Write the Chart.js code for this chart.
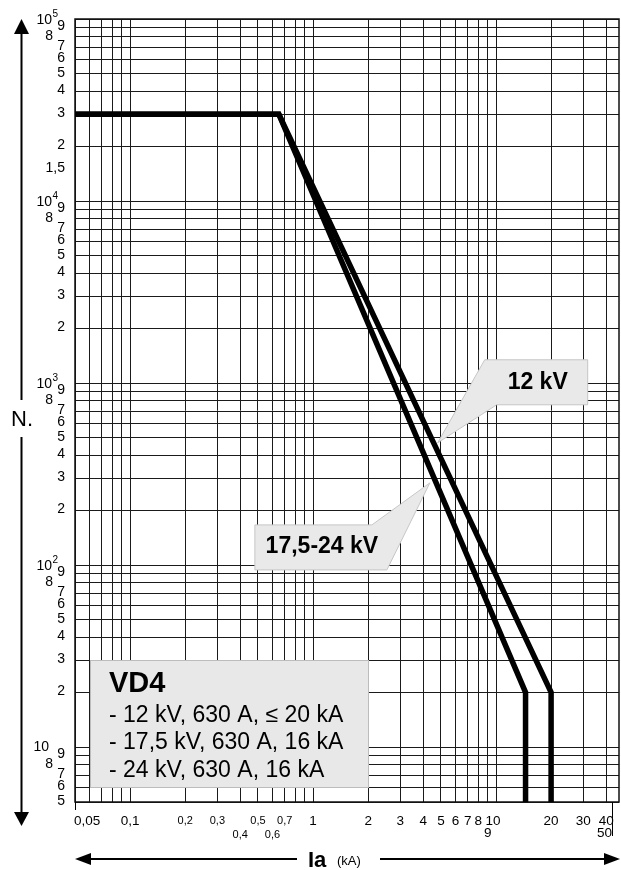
<!DOCTYPE html>
<html>
<head>
<meta charset="utf-8">
<title>VD4 - electrical life</title>
<script src="https://cdn.jsdelivr.net/npm/chart.js@4.4.1/dist/chart.umd.min.js"></script>
<style>
  html, body { margin: 0; padding: 0; background: #fff; }
  #wrap { position: relative; width: 621px; height: 870px; }
</style>
</head>
<body>
<div id="wrap"><canvas id="chart"></canvas></div>
<script>
/* VD4 electrical life curve: number of operations N. vs breaking current Ia (kA).
   Log-log chart, labels and callouts drawn by a small plugin on top of Chart.js. */

// 12 kV curve
var ia12kV = [0.05, 0.65, 20, 20];
var n12kV = [30000, 30000, 20, 5];

// 17,5-24 kV curve
var ia24kV = [0.05, 0.65, 14.5, 14.5];
var n24kV = [30000, 30000, 20, 5];

// axis ranges
var iaMin = 0.05, iaMax = 47;
var nMin = 5, nMax = 100000;

// grid lines
var iaGrid = [0.05, 0.06, 0.07, 0.08, 0.09,
  0.1, 0.2, 0.3, 0.4, 0.5, 0.6, 0.7, 0.8, 0.9,
  1, 2, 3, 4, 5, 6, 7, 8, 9,
  10, 20, 30, 40];
var nGrid = [5, 6, 7, 8, 9,
  10, 20, 30, 40, 50, 60, 70, 80, 90,
  100, 200, 300, 400, 500, 600, 700, 800, 900,
  1000, 2000, 3000, 4000, 5000, 6000, 7000, 8000, 9000,
  10000, 20000, 30000, 40000, 50000, 60000, 70000, 80000, 90000,
  100000];

// tick labels
var iaTicksTop = [0.05, 0.1, 0.2, 0.3, 0.5, 0.7, 1, 2, 3, 4, 5, 6, 7, 8, 10, 20, 30, 40];
var iaTicksLow = [0.4, 0.6, 9, 50];
var nTicks = [100000, 90000, 80000, 70000, 60000, 50000, 40000, 30000, 20000, 15000,
  10000, 9000, 8000, 7000, 6000, 5000, 4000, 3000, 2000,
  1000, 900, 800, 700, 600, 500, 400, 300, 200,
  100, 90, 80, 70, 60, 50, 40, 30, 20,
  10, 9, 8, 7, 6, 5];

// callouts: text and the point the pointer touches
var calloutText = ['12 kV', '17,5-24 kV'];
var calloutIa = [4.8, 4.35];
var calloutN = [470, 283];

// info box
var boxTitle = 'VD4';
var boxLines = ['- 12 kV, 630 A, \u2264 20 kA', '- 17,5 kV, 630 A, 16 kA', '- 24 kV, 630 A, 16 kA'];

var FONT = '"Liberation Sans", Arial, Helvetica, sans-serif';

function toPoints(xs, ys) {
  return xs.map(function (x, i) { return { x: x, y: ys[i] }; });
}

function fmt(v) {
  return String(v).replace('.', ',');
}

function arrowHead(ctx, tipX, tipY, dir, len, half) {
  // dir: 'up', 'down', 'left', 'right'
  ctx.beginPath();
  ctx.moveTo(tipX, tipY);
  if (dir === 'up') { ctx.lineTo(tipX - half, tipY + len); ctx.lineTo(tipX + half, tipY + len); }
  if (dir === 'down') { ctx.lineTo(tipX - half, tipY - len); ctx.lineTo(tipX + half, tipY - len); }
  if (dir === 'left') { ctx.lineTo(tipX + len, tipY - half); ctx.lineTo(tipX + len, tipY + half); }
  if (dir === 'right') { ctx.lineTo(tipX - len, tipY - half); ctx.lineTo(tipX - len, tipY + half); }
  ctx.closePath();
  ctx.fill();
}

var frame = {
  id: 'frame',
  beforeDatasetsDraw: function (chart) {
    var ctx = chart.ctx, a = chart.chartArea;
    ctx.save();
    ctx.strokeStyle = '#111';
    ctx.lineWidth = 1.5;
    ctx.strokeRect(a.left, a.top, a.right - a.left, a.bottom - a.top);
    ctx.restore();
  }
};

var decorations = {
  id: 'decorations',
  afterDraw: function (chart) {
    var ctx = chart.ctx, a = chart.chartArea;
    var xs = chart.scales.x, ys = chart.scales.y;
    ctx.save();
    ctx.fillStyle = '#000';
    ctx.strokeStyle = '#000';

    // --- y tick labels
    ctx.textBaseline = 'middle';
    nTicks.forEach(function (v) {
      var y = ys.getPixelForValue(v);
      var exp = Math.floor(Math.log10(v) + 1e-9);
      var lead = Math.round(v / Math.pow(10, exp) * 10) / 10;
      if (lead === 1) {
        ctx.font = '14px ' + FONT;
        ctx.textAlign = 'right';
        if (exp >= 2) {
          ctx.fillText('10', a.left - 23, y + 1);
          ctx.font = '10px ' + FONT;
          ctx.textAlign = 'left';
          ctx.fillText(String(exp), a.left - 22.5, y - 5);
        } else {
          ctx.fillText('10', a.left - 26, y);
        }
      } else {
        ctx.font = '14px ' + FONT;
        ctx.textAlign = 'right';
        var xr = lead === 8 ? a.left - 22 : a.left - 10;
        ctx.fillText(fmt(lead), xr, y - 1);
      }
    });

    // --- x tick labels
    ctx.textBaseline = 'middle';
    function xLabel(v, row) {
      var small = v >= 0.2 && v < 1;
      ctx.font = (small ? '11px ' : '13.5px ') + FONT;
      var px = xs.getPixelForValue(v);
      var y = a.bottom + (row === 0 ? 19 : (small ? 33 : 31));
      ctx.textAlign = 'center';
      if (v === iaMin) { ctx.textAlign = 'left'; px = a.left - 1; }
      if (v > iaMax) { ctx.textAlign = 'right'; px = a.right - 7; }
      if (v === 10) px -= 3;
      ctx.fillText(fmt(v), px, y);
    }
    iaTicksTop.forEach(function (v) { xLabel(v, 0); });
    iaTicksLow.forEach(function (v) { xLabel(v, 1); });

    ctx.lineWidth = 1;
    ctx.beginPath();
    ctx.moveTo(a.left + 0.5, a.bottom); ctx.lineTo(a.left + 0.5, a.bottom + 8);
    ctx.moveTo(a.right - 6.5, a.bottom); ctx.lineTo(a.right - 6.5, a.bottom + 34);
    ctx.stroke();

    // --- vertical N. arrow
    var ax = 21.5;
    ctx.lineWidth = 2;
    ctx.beginPath();
    ctx.moveTo(ax, a.top + 12); ctx.lineTo(ax, 400);
    ctx.moveTo(ax, 437); ctx.lineTo(ax, a.bottom + 12);
    ctx.stroke();
    arrowHead(ctx, ax, a.top, 'up', 15, 7.5);
    arrowHead(ctx, ax, a.bottom + 24, 'down', 14, 7.5);
    ctx.font = '22px ' + FONT;
    ctx.textAlign = 'center';
    ctx.textBaseline = 'middle';
    ctx.fillText('N.', 22, 420);

    // --- horizontal Ia arrow
    var ay = 859;
    ctx.beginPath();
    ctx.moveTo(a.left + 12, ay); ctx.lineTo(297, ay);
    ctx.moveTo(380, ay); ctx.lineTo(a.right - 10, ay);
    ctx.stroke();
    arrowHead(ctx, a.left, ay, 'left', 16, 6);
    arrowHead(ctx, 620, ay, 'right', 16, 6);
    ctx.textAlign = 'left';
    ctx.textBaseline = 'alphabetic';
    ctx.font = 'bold 22px ' + FONT;
    ctx.fillText('Ia', 308, ay + 8);
    ctx.font = '13px ' + FONT;
    ctx.fillText('(kA)', 337, ay + 6);

    // --- callouts
    calloutText.forEach(function (t, i) {
      var tx = xs.getPixelForValue(calloutIa[i]);
      var ty = ys.getPixelForValue(calloutN[i]);
      var pts;
      if (i === 0) {
        pts = [[tx + 47, ty - 83], [tx + 150, ty - 83], [tx + 150, ty - 38], [tx + 59, ty - 38], [tx, ty]];
      } else {
        pts = [[tx - 175, ty + 42], [tx - 58, ty + 42], [tx, ty], [tx - 43, ty + 87], [tx - 175, ty + 87]];
      }
      ctx.beginPath();
      pts.forEach(function (p, k) { if (k === 0) ctx.moveTo(p[0], p[1]); else ctx.lineTo(p[0], p[1]); });
      ctx.closePath();
      ctx.fillStyle = '#e9e9e9';
      ctx.fill();
      ctx.strokeStyle = '#c6c6c6';
      ctx.lineWidth = 1;
      ctx.stroke();
      ctx.fillStyle = '#000';
      ctx.font = 'bold 23px ' + FONT;
      ctx.textAlign = 'center';
      ctx.textBaseline = 'middle';
      if (i === 0) ctx.fillText(t, tx + 100, ty - 60);
      else ctx.fillText(t, tx - 108, ty + 64);
    });

    // --- VD4 info box
    var bx = a.left + 15, by = a.bottom - 142, bw = 278, bh = 127;
    ctx.fillStyle = '#e8e8e8';
    ctx.fillRect(bx, by, bw, bh);
    ctx.strokeStyle = '#bcbcbc';
    ctx.strokeRect(bx + 0.5, by + 0.5, bw, bh);
    ctx.fillStyle = '#000';
    ctx.textAlign = 'left';
    ctx.textBaseline = 'alphabetic';
    ctx.font = 'bold 29px ' + FONT;
    ctx.fillText(boxTitle, bx + 19, a.bottom - 110);
    ctx.font = '23px ' + FONT;
    var base = [a.bottom - 80, a.bottom - 53, a.bottom - 25];
    boxLines.forEach(function (s, k) { ctx.fillText(s, bx + 19, base[k]); });

    ctx.restore();
  }
};

document.addEventListener('DOMContentLoaded', function () {
  var ctx = document.getElementById('chart').getContext('2d');

  var lineStyle = {
    borderColor: '#000',
    borderWidth: 5.5,
    pointRadius: 0,
    showLine: true,
    fill: false,
    tension: 0,
    borderJoinStyle: 'miter',
    clip: 4
  };

  new Chart(ctx, {
    type: 'scatter',
    data: {
      datasets: [
        Object.assign({ label: '12 kV', data: toPoints(ia12kV, n12kV) }, lineStyle),
        Object.assign({ label: '17,5-24 kV', data: toPoints(ia24kV, n24kV) }, lineStyle)
      ]
    },
    options: {
      responsive: true,
      maintainAspectRatio: false,
      animation: false,
      layout: { padding: { left: 75, top: 19, right: 2, bottom: 68 } },
      plugins: {
        legend: { display: false },
        tooltip: { enabled: false }
      },
      scales: {
        x: {
          type: 'logarithmic',
          min: iaMin,
          max: iaMax,
          afterBuildTicks: function (scale) {
            scale.ticks = iaGrid.map(function (v) { return { value: v }; });
          },
          afterFit: function (scale) { scale.height = 0; },
          ticks: { display: false },
          grid: { color: '#1a1a1a', lineWidth: 1, drawTicks: false },
          border: { display: false }
        },
        y: {
          type: 'logarithmic',
          min: nMin,
          max: nMax,
          afterBuildTicks: function (scale) {
            scale.ticks = nGrid.map(function (v) { return { value: v }; });
          },
          afterFit: function (scale) { scale.width = 0; },
          ticks: { display: false },
          grid: { color: '#1a1a1a', lineWidth: 1, drawTicks: false },
          border: { display: false }
        }
      }
    },
    plugins: [frame, decorations]
  });
});
</script>
</body>
</html>
